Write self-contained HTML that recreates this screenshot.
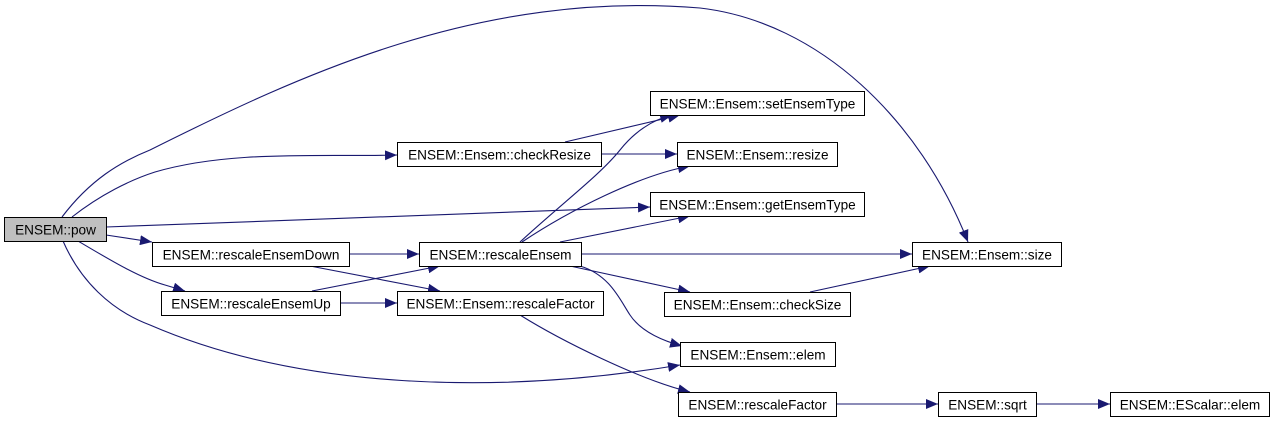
<!DOCTYPE html>
<html><head><meta charset="utf-8"><style>
html,body{margin:0;padding:0;background:#fff;}
svg{display:block;}
text{font-family:"Liberation Sans",Arial,sans-serif;font-size:13.6px;fill:#000;}
</style></head><body>
<svg width="1274" height="422" viewBox="0 0 1274 422" xmlns="http://www.w3.org/2000/svg">
<defs>
<marker id="a" markerUnits="userSpaceOnUse" markerWidth="13" markerHeight="10" refX="12" refY="5" orient="auto">
<path d="M0,0 L12,5 L0,10 Z" fill="#191970"/>
</marker>
</defs>
<g fill="none" stroke="#191970" stroke-width="1.1" marker-end="url(#a)">
<path d="M62,217 C90,180 120,162 150,150 C300,75 480,-10 700,8 C820,22 920,120 968,242"/>
<path d="M72,217 C100,195 130,180 155,172 C230,150 320,157 397,155"/>
<path d="M106,227 L650,207"/>
<path d="M106,235 L152,242"/>
<path d="M78,241 C110,260 140,278 165,285 L185,291"/>
<path d="M63,241 C80,280 110,310 150,325 C300,390 500,395 680,365"/>
<path d="M565,142 L680,115"/>
<path d="M601,154 L677,154"/>
<path d="M349,254 L419,254"/>
<path d="M310,266 L440,291"/>
<path d="M312,291 L440,266"/>
<path d="M340,303 L397,303"/>
<path d="M520,242 C560,205 600,175 620,150 C640,125 660,118 672,115"/>
<path d="M522,242 C570,210 640,175 690,166"/>
<path d="M560,242 L690,216"/>
<path d="M581,254 L912,254"/>
<path d="M570,266 L690,292"/>
<path d="M580,266 C610,275 620,300 630,315 C640,330 660,340 682,346"/>
<path d="M810,292 L930,266"/>
<path d="M520,315 C560,340 640,380 690,392"/>
<path d="M836,404 L938,404"/>
<path d="M1036,404 L1110,404"/>
</g>
<g stroke="#000" stroke-width="1">
<rect x="4.5" y="217.5" width="102" height="24" fill="#bfbfbf"/>
<rect x="397.5" y="142.5" width="204" height="24" fill="#fff"/>
<rect x="152.5" y="242.5" width="197" height="24" fill="#fff"/>
<rect x="419.5" y="242.5" width="162" height="24" fill="#fff"/>
<rect x="161.5" y="291.5" width="179" height="24" fill="#fff"/>
<rect x="397.5" y="291.5" width="206" height="24" fill="#fff"/>
<rect x="650.5" y="91.5" width="214" height="24" fill="#fff"/>
<rect x="677.5" y="142.5" width="160" height="24" fill="#fff"/>
<rect x="650.5" y="192.5" width="214" height="24" fill="#fff"/>
<rect x="912.5" y="242.5" width="149" height="24" fill="#fff"/>
<rect x="664.5" y="292.5" width="186" height="24" fill="#fff"/>
<rect x="680.5" y="342.5" width="155" height="24" fill="#fff"/>
<rect x="678.5" y="392.5" width="158" height="24" fill="#fff"/>
<rect x="938.5" y="392.5" width="98" height="24" fill="#fff"/>
<rect x="1110.5" y="392.5" width="159" height="24" fill="#fff"/>
</g>
<g text-anchor="middle">
<text x="55.5" y="234.5">ENSEM::pow</text>
<text x="499.5" y="159.5">ENSEM::Ensem::checkResize</text>
<text x="251" y="259.5">ENSEM::rescaleEnsemDown</text>
<text x="500.5" y="259.5">ENSEM::rescaleEnsem</text>
<text x="251" y="308.5">ENSEM::rescaleEnsemUp</text>
<text x="500.5" y="308.5">ENSEM::Ensem::rescaleFactor</text>
<text x="757.5" y="108.5">ENSEM::Ensem::setEnsemType</text>
<text x="757.5" y="159.5">ENSEM::Ensem::resize</text>
<text x="757.5" y="209.5">ENSEM::Ensem::getEnsemType</text>
<text x="987" y="259.5">ENSEM::Ensem::size</text>
<text x="757.5" y="309.5">ENSEM::Ensem::checkSize</text>
<text x="758" y="359.5">ENSEM::Ensem::elem</text>
<text x="757.5" y="409.5">ENSEM::rescaleFactor</text>
<text x="987.5" y="409.5">ENSEM::sqrt</text>
<text x="1190" y="409.5">ENSEM::EScalar::elem</text>
</g>
</svg>
</body></html>
